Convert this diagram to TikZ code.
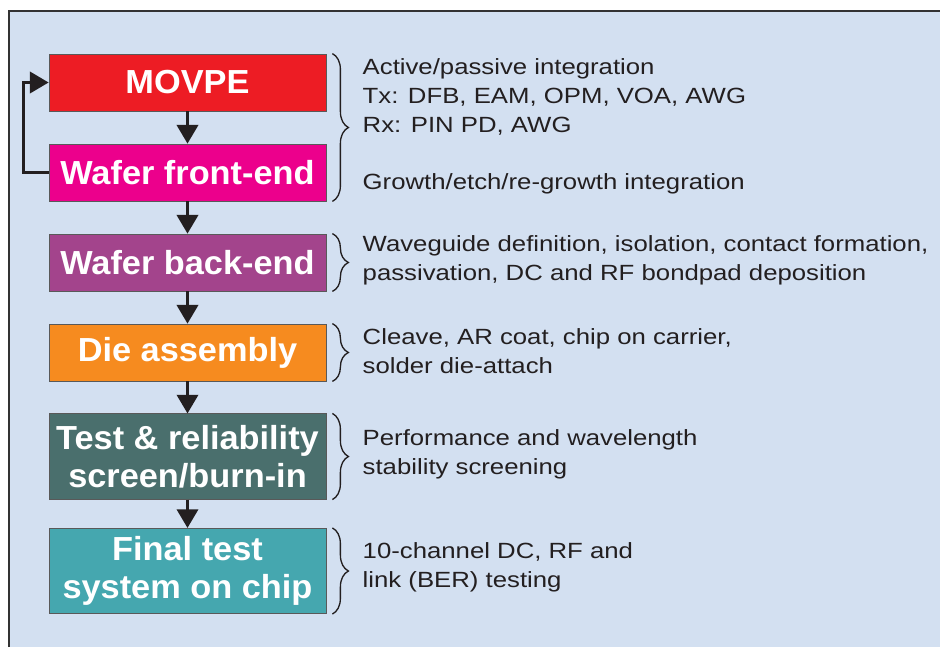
\documentclass[tikz,border=0pt]{standalone}
\usepackage{fontspec}
\setmainfont{Liberation Sans}
\newfontfamily\notefont[FakeStretch=1.17]{Liberation Sans}
\newfontfamily\stagefont[FakeStretch=1.03]{Liberation Sans}
\usetikzlibrary{arrows.meta,decorations.pathreplacing}

\definecolor{bgblue}{HTML}{D3E0F1}
\definecolor{inkdark}{HTML}{231F20}
\definecolor{movpered}{HTML}{ED1C24}
\definecolor{frontmag}{HTML}{EC008C}
\definecolor{backplum}{HTML}{A3448C}
\definecolor{dieorange}{HTML}{F68B1F}
\definecolor{testgreen}{HTML}{4A6F6D}
\definecolor{finalteal}{HTML}{45A7AF}

\begin{document}
\begin{tikzpicture}[x=0.75pt,y=-0.75pt,
    stage/.style={draw=black!65,line width=0.6pt,text=white,
      font=\stagefont\fontsize{25}{28.5}\selectfont\bfseries,align=center,
      minimum width=207.75pt,minimum height=42.75pt,inner sep=0pt},
    tall/.style={minimum height=64pt},
    flow/.style={line width=2pt,draw=inkdark,
      -{Triangle[length=14pt,width=16pt]}},
    brc/.style={decorate,decoration={brace,amplitude=12pt},
      line width=1pt,draw=inkdark},
    note/.style={anchor=west,align=left,text=inkdark,
      font=\notefont\fontsize{16.5}{21.75}\selectfont}]

    \useasboundingbox (0,0) rectangle (940,647);
    \fill[bgblue] (9,11) rectangle (940,647);
    \draw[black!80,line width=0.8pt] (9,647) -- (9,11) -- (940,11);

    % process steps
    \node[stage,fill=movpered]   (movpe) at (187.5,82.5)  {MOVPE};
    \node[stage,fill=frontmag]   (front) at (187.5,172.5) {Wafer front-end};
    \node[stage,fill=backplum]   (back)  at (187.5,262.5) {Wafer back-end};
    \node[stage,fill=dieorange]  (die)   at (187.5,352.5) {Die assembly};
    \node[stage,tall,fill=testgreen] (test)  at (187.5,456.5) {Test \& reliability\\screen/burn-in};
    \node[stage,tall,fill=finalteal] (final) at (187.5,571)   {Final test\\system on chip};

    \draw[flow] (movpe.south) -- (front.north);
    \draw[flow] (front.south) -- (back.north);
    \draw[flow] (back.south) -- (die.north);
    \draw[flow] (die.south) -- (test.north);
    \draw[flow] (test.south) -- (final.north);
    \draw[flow] (front.west) -- ++(-25,0) |- (movpe.west);

    % braces
    \draw[brc] ([xshift=4.5pt]movpe.north east) -- ([xshift=4.5pt]front.south east);
    \draw[brc] ([xshift=4.5pt]back.north east) -- ([xshift=4.5pt]back.south east);
    \draw[brc] ([xshift=4.5pt]die.north east) -- ([xshift=4.5pt]die.south east);
    \draw[brc] ([xshift=4.5pt]test.north east) -- ([xshift=4.5pt]test.south east);
    \draw[brc] ([xshift=4.5pt]final.north east) -- ([xshift=4.5pt]final.south east);

    % notes
    \node[note] (n1) at (358,97)    {Active/passive integration\\Tx: DFB, EAM, OPM, VOA, AWG\\Rx: PIN PD, AWG};
    \node[note] (n2) at (358,184)   {Growth/etch/re-growth integration};
    \node[note] (n3) at (358,260.5) {Waveguide definition, isolation, contact formation,\\passivation, DC and RF bondpad deposition};
    \node[note] (n4) at (358,351.5) {Cleave, AR coat, chip on carrier,\\solder die-attach};
    \node[note] (n5) at (358,454.5) {Performance and wavelength\\stability screening};
    \node[note] (n6) at (358,567.5) {10-channel DC, RF and\\link (BER) testing};
\end{tikzpicture}
\end{document}
